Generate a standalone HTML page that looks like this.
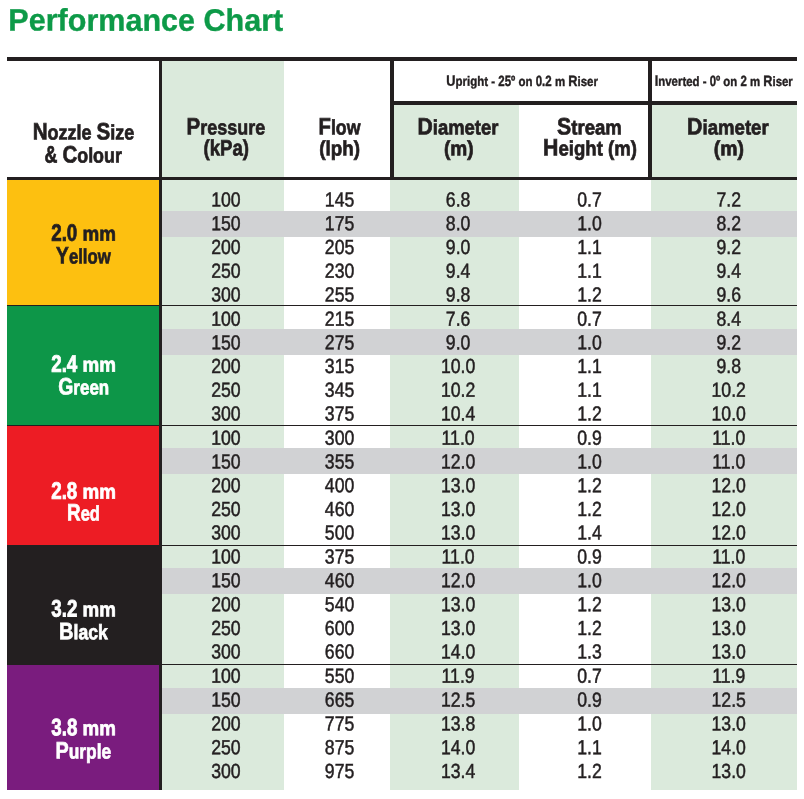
<!DOCTYPE html>
<html lang="en"><head><meta charset="utf-8"><title>Performance Chart</title>
<style>
html,body{margin:0;padding:0;background:#fff;}
body{text-rendering:geometricPrecision;width:804px;height:799px;position:relative;overflow:hidden;font-family:"Liberation Sans",sans-serif;}
.b{position:absolute;}
.t{position:absolute;white-space:nowrap;transform-origin:50% 50%;line-height:30px;}
.cp,.w,.ws{display:inline-block;}
.w::first-letter{font-size:1.145em;line-height:0;}
.ws::first-letter{font-size:1.11em;line-height:0;}
.mx{font-size:1.07em;line-height:0;}
.title{position:absolute;left:8px;top:0px;margin:0;font-size:31px;line-height:40px;font-weight:700;color:#0d9a48;white-space:nowrap;-webkit-text-stroke:0.35px #0d9a48;transform-origin:0 50%;transform:translate(0.35px,0.6px) matrix(0.985,0.0005,0,1,0,0);}
</style></head><body>
<div class="b" style="left:162px;top:61px;width:122px;height:116px;background:#dbeadc"></div>
<div class="b" style="left:394px;top:105px;width:125px;height:72px;background:#dbeadc"></div>
<div class="b" style="left:652px;top:105px;width:145px;height:72px;background:#dbeadc"></div>
<div class="b" style="left:162px;top:180px;width:122px;height:609.8px;background:#dbeadc"></div>
<div class="b" style="left:390px;top:180px;width:129px;height:609.8px;background:#dbeadc"></div>
<div class="b" style="left:651px;top:180px;width:146px;height:609.8px;background:#dbeadc"></div>
<div class="b" style="left:162px;top:211px;width:635px;height:25.6px;background:#d1d2d4"></div>
<div class="b" style="left:162px;top:329px;width:635px;height:25.7px;background:#d1d2d4"></div>
<div class="b" style="left:162px;top:448.1px;width:635px;height:25.7px;background:#d1d2d4"></div>
<div class="b" style="left:162px;top:568.1px;width:635px;height:25.7px;background:#d1d2d4"></div>
<div class="b" style="left:162px;top:688.1px;width:635px;height:25.7px;background:#d1d2d4"></div>
<div class="b" style="left:7px;top:180px;width:152.2px;height:125.2px;background:#fdc010"></div>
<div class="b" style="left:7px;top:305.2px;width:152.2px;height:120.0px;background:#0d9648"></div>
<div class="b" style="left:7px;top:425.2px;width:152.2px;height:120.0px;background:#ed1c24"></div>
<div class="b" style="left:7px;top:545.2px;width:152.2px;height:119.1px;background:#231f20"></div>
<div class="b" style="left:7px;top:664.3px;width:152.2px;height:125.5px;background:#7a1c7e"></div>
<div class="b" style="left:7px;top:57px;width:790px;height:4px;background:#231f20"></div>
<div class="b" style="left:394px;top:101px;width:403px;height:4px;background:#231f20"></div>
<div class="b" style="left:7px;top:177px;width:790px;height:3px;background:#231f20"></div>
<div class="b" style="left:159px;top:57px;width:3px;height:732.8px;background:#231f20"></div>
<div class="b" style="left:390px;top:57px;width:4px;height:123px;background:#231f20"></div>
<div class="b" style="left:648px;top:57px;width:4px;height:123px;background:#231f20"></div>
<div class="b" style="left:7px;top:304.8px;width:790px;height:1.2px;background:#231f20"></div>
<div class="b" style="left:7px;top:424.9px;width:790px;height:1.2px;background:#231f20"></div>
<div class="b" style="left:7px;top:544.9px;width:790px;height:1.2px;background:#231f20"></div>
<div class="b" style="left:7px;top:664.0px;width:790px;height:1.2px;background:#231f20"></div>
<h1 class="title">Performance Chart</h1>
<span class="t" style="left:83px;top:118px;font-size:20.8px;font-weight:700;color:#231f20;transform:translate(calc(-50% + 0.5px),0.6px) matrix(0.8649,0.0005,0,1,0,0);-webkit-text-stroke:0.7px #231f20;"><span class="w">Nozzle</span> <span class="w">Size</span></span>
<span class="t" style="left:83px;top:141px;font-size:20.8px;font-weight:700;color:#231f20;transform:translate(calc(-50% + 0.25px),0.5px) matrix(0.8588,0.0005,0,1,0,0);-webkit-text-stroke:0.7px #231f20;"><span class="cp" style="transform:scaleY(1.145);transform-origin:50% 21.0px">&amp;</span> <span class="w">Colour</span></span>
<span class="t" style="left:225px;top:113px;font-size:20.8px;font-weight:700;color:#231f20;transform:translate(calc(-50% + 0.88px),0.5px) matrix(0.8626,0.0005,0,1,0,0);-webkit-text-stroke:0.7px #231f20;"><span class="w">Pressure</span></span>
<span class="t" style="left:226px;top:134px;font-size:20.8px;font-weight:700;color:#231f20;transform:translate(calc(-50% + 0.21px),0.5px) matrix(0.8375,0.0005,0,1,0,0);-webkit-text-stroke:0.7px #231f20;"><span class="mx">(kPa)</span></span>
<span class="t" style="left:339px;top:113px;font-size:20.8px;font-weight:700;color:#231f20;transform:translate(calc(-50% + 0.49px),0.5px) matrix(0.8508,0.0005,0,1,0,0);-webkit-text-stroke:0.7px #231f20;"><span class="w">Flow</span></span>
<span class="t" style="left:339px;top:134px;font-size:20.8px;font-weight:700;color:#231f20;transform:translate(calc(-50% + 0.66px),0.5px) matrix(0.9056,0.0005,0,1,0,0);-webkit-text-stroke:0.7px #231f20;">(lph)</span>
<span class="t" style="left:457px;top:113px;font-size:20.8px;font-weight:700;color:#231f20;transform:translate(calc(-50% + 0.95px),0.5px) matrix(0.8868,0.0005,0,1,0,0);-webkit-text-stroke:0.7px #231f20;"><span class="w">Diameter</span></span>
<span class="t" style="left:458px;top:134px;font-size:20.8px;font-weight:700;color:#231f20;transform:translate(calc(-50% + 0.85px),0.5px) matrix(0.9181,0.0005,0,1,0,0);-webkit-text-stroke:0.7px #231f20;">(m)</span>
<span class="t" style="left:589px;top:113px;font-size:20.8px;font-weight:700;color:#231f20;transform:translate(calc(-50% + 0.47px),0.5px) matrix(0.8934,0.0005,0,1,0,0);-webkit-text-stroke:0.7px #231f20;"><span class="w">Stream</span></span>
<span class="t" style="left:590px;top:134px;font-size:20.8px;font-weight:700;color:#231f20;transform:translate(calc(-50% + 0.01px),0.5px) matrix(0.8937,0.0005,0,1,0,0);-webkit-text-stroke:0.7px #231f20;"><span class="w">Height</span> (m)</span>
<span class="t" style="left:727px;top:113px;font-size:20.8px;font-weight:700;color:#231f20;transform:translate(calc(-50% + 0.89px),0.5px) matrix(0.8946,0.0005,0,1,0,0);-webkit-text-stroke:0.7px #231f20;"><span class="w">Diameter</span></span>
<span class="t" style="left:728px;top:134px;font-size:20.8px;font-weight:700;color:#231f20;transform:translate(calc(-50% + 0.8px),0.5px) matrix(0.9341,0.0005,0,1,0,0);-webkit-text-stroke:0.7px #231f20;">(m)</span>
<span class="t" style="left:522px;top:66px;font-size:13.4px;font-weight:700;color:#231f20;transform:translate(calc(-50% + 0.15px),0.9px) matrix(0.8578,0.0005,0,1,0,0);-webkit-text-stroke:0.4px #231f20;"><span class="ws">Upright</span> - <span class="cp" style="transform:scaleY(1.11);transform-origin:50% 19.0px">25º</span> on <span class="cp" style="transform:scaleY(1.11);transform-origin:50% 19.0px">0.2</span> m <span class="ws">Riser</span></span>
<span class="t" style="left:723px;top:66px;font-size:13.4px;font-weight:700;color:#231f20;transform:translate(calc(-50% + 0.78px),0.9px) matrix(0.8525,0.0005,0,1,0,0);-webkit-text-stroke:0.4px #231f20;"><span class="ws">Inverted</span> - <span class="cp" style="transform:scaleY(1.11);transform-origin:50% 19.0px">0º</span> on <span class="cp" style="transform:scaleY(1.11);transform-origin:50% 19.0px">2</span> m <span class="ws">Riser</span></span>
<span class="t" style="left:83px;top:219px;font-size:20.8px;font-weight:700;color:#231f20;transform:translate(calc(-50% + 0.6px),0.7px) matrix(0.9042,0.0005,0,1,0,0);-webkit-text-stroke:0.7px #231f20;"><span class="cp" style="transform:scaleY(1.145);transform-origin:50% 21.0px">2.0</span> mm</span>
<span class="t" style="left:83px;top:242px;font-size:20.8px;font-weight:700;color:#231f20;transform:translate(calc(-50% + 0.45px),0.6px) matrix(0.8051,0.0005,0,1,0,0);-webkit-text-stroke:0.7px #231f20;"><span class="w">Yellow</span></span>
<span class="t" style="left:83px;top:350px;font-size:20.8px;font-weight:700;color:#fff;transform:translate(calc(-50% + 0.6px),0.7px) matrix(0.9042,0.0005,0,1,0,0);-webkit-text-stroke:0.7px #fff;"><span class="cp" style="transform:scaleY(1.145);transform-origin:50% 21.0px">2.4</span> mm</span>
<span class="t" style="left:83px;top:373px;font-size:20.8px;font-weight:700;color:#fff;transform:translate(calc(-50% + 0.72px),0.5px) matrix(0.8157,0.0005,0,1,0,0);-webkit-text-stroke:0.7px #fff;"><span class="w">Green</span></span>
<span class="t" style="left:83px;top:477px;font-size:20.8px;font-weight:700;color:#fff;transform:translate(calc(-50% + 0.6px),0.7px) matrix(0.9042,0.0005,0,1,0,0);-webkit-text-stroke:0.7px #fff;"><span class="cp" style="transform:scaleY(1.145);transform-origin:50% 21.0px">2.8</span> mm</span>
<span class="t" style="left:83px;top:499px;font-size:20.8px;font-weight:700;color:#fff;transform:translate(calc(-50% + 0.48px),0.6px) matrix(0.791,0.0005,0,1,0,0);-webkit-text-stroke:0.7px #fff;"><span class="w">Red</span></span>
<span class="t" style="left:83px;top:595px;font-size:20.8px;font-weight:700;color:#fff;transform:translate(calc(-50% + 0.65px),0.4px) matrix(0.9027,0.0005,0,1,0,0);-webkit-text-stroke:0.7px #fff;"><span class="cp" style="transform:scaleY(1.145);transform-origin:50% 21.0px">3.2</span> mm</span>
<span class="t" style="left:83px;top:618px;font-size:20.8px;font-weight:700;color:#fff;transform:translate(calc(-50% + 0.41px),0.2px) matrix(0.8452,0.0005,0,1,0,0);-webkit-text-stroke:0.7px #fff;"><span class="w">Black</span></span>
<span class="t" style="left:83px;top:714px;font-size:20.8px;font-weight:700;color:#fff;transform:translate(calc(-50% + 0.65px),0.3px) matrix(0.9027,0.0005,0,1,0,0);-webkit-text-stroke:0.7px #fff;"><span class="cp" style="transform:scaleY(1.145);transform-origin:50% 21.0px">3.8</span> mm</span>
<span class="t" style="left:83px;top:737px;font-size:20.8px;font-weight:700;color:#fff;transform:translate(calc(-50% + 0.3px),0.5px) matrix(0.8336,0.0005,0,1,0,0);-webkit-text-stroke:0.7px #fff;"><span class="w">Purple</span></span>
<span class="t" style="left:225px;top:185px;font-size:20.4px;font-weight:400;color:#231f20;transform:translate(calc(-50% + 0.95px),0.55px) matrix(0.866,0.0005,0,1,0,0);-webkit-text-stroke:0.5px #231f20;">100</span>
<span class="t" style="left:339px;top:185px;font-size:20.4px;font-weight:400;color:#231f20;transform:translate(calc(-50% + 0.6px),0.55px) matrix(0.866,0.0005,0,1,0,0);-webkit-text-stroke:0.5px #231f20;">145</span>
<span class="t" style="left:458px;top:185px;font-size:20.4px;font-weight:400;color:#231f20;transform:translate(calc(-50% + 0.1px),0.55px) matrix(0.866,0.0005,0,1,0,0);-webkit-text-stroke:0.5px #231f20;">6.8</span>
<span class="t" style="left:589px;top:185px;font-size:20.4px;font-weight:400;color:#231f20;transform:translate(calc(-50% + 0.5px),0.55px) matrix(0.866,0.0005,0,1,0,0);-webkit-text-stroke:0.5px #231f20;">0.7</span>
<span class="t" style="left:728px;top:185px;font-size:20.4px;font-weight:400;color:#231f20;transform:translate(calc(-50% + 0.7px),0.55px) matrix(0.866,0.0005,0,1,0,0);-webkit-text-stroke:0.5px #231f20;">7.2</span>
<span class="t" style="left:225px;top:209px;font-size:20.4px;font-weight:400;color:#231f20;transform:translate(calc(-50% + 0.95px),0.28px) matrix(0.866,0.0005,0,1,0,0);-webkit-text-stroke:0.5px #231f20;">150</span>
<span class="t" style="left:339px;top:209px;font-size:20.4px;font-weight:400;color:#231f20;transform:translate(calc(-50% + 0.6px),0.28px) matrix(0.866,0.0005,0,1,0,0);-webkit-text-stroke:0.5px #231f20;">175</span>
<span class="t" style="left:458px;top:209px;font-size:20.4px;font-weight:400;color:#231f20;transform:translate(calc(-50% + 0.1px),0.28px) matrix(0.866,0.0005,0,1,0,0);-webkit-text-stroke:0.5px #231f20;">8.0</span>
<span class="t" style="left:589px;top:209px;font-size:20.4px;font-weight:400;color:#231f20;transform:translate(calc(-50% + 0.5px),0.28px) matrix(0.866,0.0005,0,1,0,0);-webkit-text-stroke:0.5px #231f20;">1.0</span>
<span class="t" style="left:728px;top:209px;font-size:20.4px;font-weight:400;color:#231f20;transform:translate(calc(-50% + 0.7px),0.28px) matrix(0.866,0.0005,0,1,0,0);-webkit-text-stroke:0.5px #231f20;">8.2</span>
<span class="t" style="left:225px;top:232px;font-size:20.4px;font-weight:400;color:#231f20;transform:translate(calc(-50% + 0.95px),0.96px) matrix(0.866,0.0005,0,1,0,0);-webkit-text-stroke:0.5px #231f20;">200</span>
<span class="t" style="left:339px;top:232px;font-size:20.4px;font-weight:400;color:#231f20;transform:translate(calc(-50% + 0.6px),0.96px) matrix(0.866,0.0005,0,1,0,0);-webkit-text-stroke:0.5px #231f20;">205</span>
<span class="t" style="left:458px;top:232px;font-size:20.4px;font-weight:400;color:#231f20;transform:translate(calc(-50% + 0.1px),0.96px) matrix(0.866,0.0005,0,1,0,0);-webkit-text-stroke:0.5px #231f20;">9.0</span>
<span class="t" style="left:589px;top:232px;font-size:20.4px;font-weight:400;color:#231f20;transform:translate(calc(-50% + 0.5px),0.96px) matrix(0.866,0.0005,0,1,0,0);-webkit-text-stroke:0.5px #231f20;">1.1</span>
<span class="t" style="left:728px;top:232px;font-size:20.4px;font-weight:400;color:#231f20;transform:translate(calc(-50% + 0.7px),0.96px) matrix(0.866,0.0005,0,1,0,0);-webkit-text-stroke:0.5px #231f20;">9.2</span>
<span class="t" style="left:225px;top:256px;font-size:20.4px;font-weight:400;color:#231f20;transform:translate(calc(-50% + 0.95px),0.69px) matrix(0.866,0.0005,0,1,0,0);-webkit-text-stroke:0.5px #231f20;">250</span>
<span class="t" style="left:339px;top:256px;font-size:20.4px;font-weight:400;color:#231f20;transform:translate(calc(-50% + 0.6px),0.69px) matrix(0.866,0.0005,0,1,0,0);-webkit-text-stroke:0.5px #231f20;">230</span>
<span class="t" style="left:458px;top:256px;font-size:20.4px;font-weight:400;color:#231f20;transform:translate(calc(-50% + 0.1px),0.69px) matrix(0.866,0.0005,0,1,0,0);-webkit-text-stroke:0.5px #231f20;">9.4</span>
<span class="t" style="left:589px;top:256px;font-size:20.4px;font-weight:400;color:#231f20;transform:translate(calc(-50% + 0.5px),0.69px) matrix(0.866,0.0005,0,1,0,0);-webkit-text-stroke:0.5px #231f20;">1.1</span>
<span class="t" style="left:728px;top:256px;font-size:20.4px;font-weight:400;color:#231f20;transform:translate(calc(-50% + 0.7px),0.69px) matrix(0.866,0.0005,0,1,0,0);-webkit-text-stroke:0.5px #231f20;">9.4</span>
<span class="t" style="left:225px;top:280px;font-size:20.4px;font-weight:400;color:#231f20;transform:translate(calc(-50% + 0.95px),0.52px) matrix(0.866,0.0005,0,1,0,0);-webkit-text-stroke:0.5px #231f20;">300</span>
<span class="t" style="left:339px;top:280px;font-size:20.4px;font-weight:400;color:#231f20;transform:translate(calc(-50% + 0.6px),0.52px) matrix(0.866,0.0005,0,1,0,0);-webkit-text-stroke:0.5px #231f20;">255</span>
<span class="t" style="left:458px;top:280px;font-size:20.4px;font-weight:400;color:#231f20;transform:translate(calc(-50% + 0.1px),0.52px) matrix(0.866,0.0005,0,1,0,0);-webkit-text-stroke:0.5px #231f20;">9.8</span>
<span class="t" style="left:589px;top:280px;font-size:20.4px;font-weight:400;color:#231f20;transform:translate(calc(-50% + 0.5px),0.52px) matrix(0.866,0.0005,0,1,0,0);-webkit-text-stroke:0.5px #231f20;">1.2</span>
<span class="t" style="left:728px;top:280px;font-size:20.4px;font-weight:400;color:#231f20;transform:translate(calc(-50% + 0.7px),0.52px) matrix(0.866,0.0005,0,1,0,0);-webkit-text-stroke:0.5px #231f20;">9.6</span>
<span class="t" style="left:225px;top:304px;font-size:20.4px;font-weight:400;color:#231f20;transform:translate(calc(-50% + 0.95px),0.7px) matrix(0.866,0.0005,0,1,0,0);-webkit-text-stroke:0.5px #231f20;">100</span>
<span class="t" style="left:339px;top:304px;font-size:20.4px;font-weight:400;color:#231f20;transform:translate(calc(-50% + 0.6px),0.7px) matrix(0.866,0.0005,0,1,0,0);-webkit-text-stroke:0.5px #231f20;">215</span>
<span class="t" style="left:458px;top:304px;font-size:20.4px;font-weight:400;color:#231f20;transform:translate(calc(-50% + 0.1px),0.7px) matrix(0.866,0.0005,0,1,0,0);-webkit-text-stroke:0.5px #231f20;">7.6</span>
<span class="t" style="left:589px;top:304px;font-size:20.4px;font-weight:400;color:#231f20;transform:translate(calc(-50% + 0.5px),0.7px) matrix(0.866,0.0005,0,1,0,0);-webkit-text-stroke:0.5px #231f20;">0.7</span>
<span class="t" style="left:728px;top:304px;font-size:20.4px;font-weight:400;color:#231f20;transform:translate(calc(-50% + 0.7px),0.7px) matrix(0.866,0.0005,0,1,0,0);-webkit-text-stroke:0.5px #231f20;">8.4</span>
<span class="t" style="left:225px;top:328px;font-size:20.4px;font-weight:400;color:#231f20;transform:translate(calc(-50% + 0.95px),0.38px) matrix(0.866,0.0005,0,1,0,0);-webkit-text-stroke:0.5px #231f20;">150</span>
<span class="t" style="left:339px;top:328px;font-size:20.4px;font-weight:400;color:#231f20;transform:translate(calc(-50% + 0.6px),0.38px) matrix(0.866,0.0005,0,1,0,0);-webkit-text-stroke:0.5px #231f20;">275</span>
<span class="t" style="left:458px;top:328px;font-size:20.4px;font-weight:400;color:#231f20;transform:translate(calc(-50% + 0.1px),0.38px) matrix(0.866,0.0005,0,1,0,0);-webkit-text-stroke:0.5px #231f20;">9.0</span>
<span class="t" style="left:589px;top:328px;font-size:20.4px;font-weight:400;color:#231f20;transform:translate(calc(-50% + 0.5px),0.38px) matrix(0.866,0.0005,0,1,0,0);-webkit-text-stroke:0.5px #231f20;">1.0</span>
<span class="t" style="left:728px;top:328px;font-size:20.4px;font-weight:400;color:#231f20;transform:translate(calc(-50% + 0.7px),0.38px) matrix(0.866,0.0005,0,1,0,0);-webkit-text-stroke:0.5px #231f20;">9.2</span>
<span class="t" style="left:225px;top:352px;font-size:20.4px;font-weight:400;color:#231f20;transform:translate(calc(-50% + 0.95px),0.06px) matrix(0.866,0.0005,0,1,0,0);-webkit-text-stroke:0.5px #231f20;">200</span>
<span class="t" style="left:339px;top:352px;font-size:20.4px;font-weight:400;color:#231f20;transform:translate(calc(-50% + 0.6px),0.06px) matrix(0.866,0.0005,0,1,0,0);-webkit-text-stroke:0.5px #231f20;">315</span>
<span class="t" style="left:458px;top:352px;font-size:20.4px;font-weight:400;color:#231f20;transform:translate(calc(-50% + 0.1px),0.06px) matrix(0.866,0.0005,0,1,0,0);-webkit-text-stroke:0.5px #231f20;">10.0</span>
<span class="t" style="left:589px;top:352px;font-size:20.4px;font-weight:400;color:#231f20;transform:translate(calc(-50% + 0.5px),0.06px) matrix(0.866,0.0005,0,1,0,0);-webkit-text-stroke:0.5px #231f20;">1.1</span>
<span class="t" style="left:728px;top:352px;font-size:20.4px;font-weight:400;color:#231f20;transform:translate(calc(-50% + 0.7px),0.06px) matrix(0.866,0.0005,0,1,0,0);-webkit-text-stroke:0.5px #231f20;">9.8</span>
<span class="t" style="left:225px;top:375px;font-size:20.4px;font-weight:400;color:#231f20;transform:translate(calc(-50% + 0.95px),0.79px) matrix(0.866,0.0005,0,1,0,0);-webkit-text-stroke:0.5px #231f20;">250</span>
<span class="t" style="left:339px;top:375px;font-size:20.4px;font-weight:400;color:#231f20;transform:translate(calc(-50% + 0.6px),0.79px) matrix(0.866,0.0005,0,1,0,0);-webkit-text-stroke:0.5px #231f20;">345</span>
<span class="t" style="left:458px;top:375px;font-size:20.4px;font-weight:400;color:#231f20;transform:translate(calc(-50% + 0.1px),0.79px) matrix(0.866,0.0005,0,1,0,0);-webkit-text-stroke:0.5px #231f20;">10.2</span>
<span class="t" style="left:589px;top:375px;font-size:20.4px;font-weight:400;color:#231f20;transform:translate(calc(-50% + 0.5px),0.79px) matrix(0.866,0.0005,0,1,0,0);-webkit-text-stroke:0.5px #231f20;">1.1</span>
<span class="t" style="left:728px;top:375px;font-size:20.4px;font-weight:400;color:#231f20;transform:translate(calc(-50% + 0.7px),0.79px) matrix(0.866,0.0005,0,1,0,0);-webkit-text-stroke:0.5px #231f20;">10.2</span>
<span class="t" style="left:225px;top:399px;font-size:20.4px;font-weight:400;color:#231f20;transform:translate(calc(-50% + 0.95px),0.57px) matrix(0.866,0.0005,0,1,0,0);-webkit-text-stroke:0.5px #231f20;">300</span>
<span class="t" style="left:339px;top:399px;font-size:20.4px;font-weight:400;color:#231f20;transform:translate(calc(-50% + 0.6px),0.57px) matrix(0.866,0.0005,0,1,0,0);-webkit-text-stroke:0.5px #231f20;">375</span>
<span class="t" style="left:458px;top:399px;font-size:20.4px;font-weight:400;color:#231f20;transform:translate(calc(-50% + 0.1px),0.57px) matrix(0.866,0.0005,0,1,0,0);-webkit-text-stroke:0.5px #231f20;">10.4</span>
<span class="t" style="left:589px;top:399px;font-size:20.4px;font-weight:400;color:#231f20;transform:translate(calc(-50% + 0.5px),0.57px) matrix(0.866,0.0005,0,1,0,0);-webkit-text-stroke:0.5px #231f20;">1.2</span>
<span class="t" style="left:728px;top:399px;font-size:20.4px;font-weight:400;color:#231f20;transform:translate(calc(-50% + 0.7px),0.57px) matrix(0.866,0.0005,0,1,0,0);-webkit-text-stroke:0.5px #231f20;">10.0</span>
<span class="t" style="left:225px;top:423px;font-size:20.4px;font-weight:400;color:#231f20;transform:translate(calc(-50% + 0.95px),0.85px) matrix(0.866,0.0005,0,1,0,0);-webkit-text-stroke:0.5px #231f20;">100</span>
<span class="t" style="left:339px;top:423px;font-size:20.4px;font-weight:400;color:#231f20;transform:translate(calc(-50% + 0.6px),0.85px) matrix(0.866,0.0005,0,1,0,0);-webkit-text-stroke:0.5px #231f20;">300</span>
<span class="t" style="left:458px;top:423px;font-size:20.4px;font-weight:400;color:#231f20;transform:translate(calc(-50% + 0.1px),0.85px) matrix(0.866,0.0005,0,1,0,0);-webkit-text-stroke:0.5px #231f20;">11.0</span>
<span class="t" style="left:589px;top:423px;font-size:20.4px;font-weight:400;color:#231f20;transform:translate(calc(-50% + 0.5px),0.85px) matrix(0.866,0.0005,0,1,0,0);-webkit-text-stroke:0.5px #231f20;">0.9</span>
<span class="t" style="left:728px;top:423px;font-size:20.4px;font-weight:400;color:#231f20;transform:translate(calc(-50% + 0.7px),0.85px) matrix(0.866,0.0005,0,1,0,0);-webkit-text-stroke:0.5px #231f20;">11.0</span>
<span class="t" style="left:225px;top:447px;font-size:20.4px;font-weight:400;color:#231f20;transform:translate(calc(-50% + 0.95px),0.53px) matrix(0.866,0.0005,0,1,0,0);-webkit-text-stroke:0.5px #231f20;">150</span>
<span class="t" style="left:339px;top:447px;font-size:20.4px;font-weight:400;color:#231f20;transform:translate(calc(-50% + 0.6px),0.53px) matrix(0.866,0.0005,0,1,0,0);-webkit-text-stroke:0.5px #231f20;">355</span>
<span class="t" style="left:458px;top:447px;font-size:20.4px;font-weight:400;color:#231f20;transform:translate(calc(-50% + 0.1px),0.53px) matrix(0.866,0.0005,0,1,0,0);-webkit-text-stroke:0.5px #231f20;">12.0</span>
<span class="t" style="left:589px;top:447px;font-size:20.4px;font-weight:400;color:#231f20;transform:translate(calc(-50% + 0.5px),0.53px) matrix(0.866,0.0005,0,1,0,0);-webkit-text-stroke:0.5px #231f20;">1.0</span>
<span class="t" style="left:728px;top:447px;font-size:20.4px;font-weight:400;color:#231f20;transform:translate(calc(-50% + 0.7px),0.53px) matrix(0.866,0.0005,0,1,0,0);-webkit-text-stroke:0.5px #231f20;">11.0</span>
<span class="t" style="left:225px;top:471px;font-size:20.4px;font-weight:400;color:#231f20;transform:translate(calc(-50% + 0.95px),0.21px) matrix(0.866,0.0005,0,1,0,0);-webkit-text-stroke:0.5px #231f20;">200</span>
<span class="t" style="left:339px;top:471px;font-size:20.4px;font-weight:400;color:#231f20;transform:translate(calc(-50% + 0.6px),0.21px) matrix(0.866,0.0005,0,1,0,0);-webkit-text-stroke:0.5px #231f20;">400</span>
<span class="t" style="left:458px;top:471px;font-size:20.4px;font-weight:400;color:#231f20;transform:translate(calc(-50% + 0.1px),0.21px) matrix(0.866,0.0005,0,1,0,0);-webkit-text-stroke:0.5px #231f20;">13.0</span>
<span class="t" style="left:589px;top:471px;font-size:20.4px;font-weight:400;color:#231f20;transform:translate(calc(-50% + 0.5px),0.21px) matrix(0.866,0.0005,0,1,0,0);-webkit-text-stroke:0.5px #231f20;">1.2</span>
<span class="t" style="left:728px;top:471px;font-size:20.4px;font-weight:400;color:#231f20;transform:translate(calc(-50% + 0.7px),0.21px) matrix(0.866,0.0005,0,1,0,0);-webkit-text-stroke:0.5px #231f20;">12.0</span>
<span class="t" style="left:225px;top:494px;font-size:20.4px;font-weight:400;color:#231f20;transform:translate(calc(-50% + 0.95px),0.89px) matrix(0.866,0.0005,0,1,0,0);-webkit-text-stroke:0.5px #231f20;">250</span>
<span class="t" style="left:339px;top:494px;font-size:20.4px;font-weight:400;color:#231f20;transform:translate(calc(-50% + 0.6px),0.89px) matrix(0.866,0.0005,0,1,0,0);-webkit-text-stroke:0.5px #231f20;">460</span>
<span class="t" style="left:458px;top:494px;font-size:20.4px;font-weight:400;color:#231f20;transform:translate(calc(-50% + 0.1px),0.89px) matrix(0.866,0.0005,0,1,0,0);-webkit-text-stroke:0.5px #231f20;">13.0</span>
<span class="t" style="left:589px;top:494px;font-size:20.4px;font-weight:400;color:#231f20;transform:translate(calc(-50% + 0.5px),0.89px) matrix(0.866,0.0005,0,1,0,0);-webkit-text-stroke:0.5px #231f20;">1.2</span>
<span class="t" style="left:728px;top:494px;font-size:20.4px;font-weight:400;color:#231f20;transform:translate(calc(-50% + 0.7px),0.89px) matrix(0.866,0.0005,0,1,0,0);-webkit-text-stroke:0.5px #231f20;">12.0</span>
<span class="t" style="left:225px;top:518px;font-size:20.4px;font-weight:400;color:#231f20;transform:translate(calc(-50% + 0.95px),0.47px) matrix(0.866,0.0005,0,1,0,0);-webkit-text-stroke:0.5px #231f20;">300</span>
<span class="t" style="left:339px;top:518px;font-size:20.4px;font-weight:400;color:#231f20;transform:translate(calc(-50% + 0.6px),0.47px) matrix(0.866,0.0005,0,1,0,0);-webkit-text-stroke:0.5px #231f20;">500</span>
<span class="t" style="left:458px;top:518px;font-size:20.4px;font-weight:400;color:#231f20;transform:translate(calc(-50% + 0.1px),0.47px) matrix(0.866,0.0005,0,1,0,0);-webkit-text-stroke:0.5px #231f20;">13.0</span>
<span class="t" style="left:589px;top:518px;font-size:20.4px;font-weight:400;color:#231f20;transform:translate(calc(-50% + 0.5px),0.47px) matrix(0.866,0.0005,0,1,0,0);-webkit-text-stroke:0.5px #231f20;">1.4</span>
<span class="t" style="left:728px;top:518px;font-size:20.4px;font-weight:400;color:#231f20;transform:translate(calc(-50% + 0.7px),0.47px) matrix(0.866,0.0005,0,1,0,0);-webkit-text-stroke:0.5px #231f20;">12.0</span>
<span class="t" style="left:225px;top:542px;font-size:20.4px;font-weight:400;color:#231f20;transform:translate(calc(-50% + 0.95px),0.55px) matrix(0.866,0.0005,0,1,0,0);-webkit-text-stroke:0.5px #231f20;">100</span>
<span class="t" style="left:339px;top:542px;font-size:20.4px;font-weight:400;color:#231f20;transform:translate(calc(-50% + 0.6px),0.55px) matrix(0.866,0.0005,0,1,0,0);-webkit-text-stroke:0.5px #231f20;">375</span>
<span class="t" style="left:458px;top:542px;font-size:20.4px;font-weight:400;color:#231f20;transform:translate(calc(-50% + 0.1px),0.55px) matrix(0.866,0.0005,0,1,0,0);-webkit-text-stroke:0.5px #231f20;">11.0</span>
<span class="t" style="left:589px;top:542px;font-size:20.4px;font-weight:400;color:#231f20;transform:translate(calc(-50% + 0.5px),0.55px) matrix(0.866,0.0005,0,1,0,0);-webkit-text-stroke:0.5px #231f20;">0.9</span>
<span class="t" style="left:728px;top:542px;font-size:20.4px;font-weight:400;color:#231f20;transform:translate(calc(-50% + 0.7px),0.55px) matrix(0.866,0.0005,0,1,0,0);-webkit-text-stroke:0.5px #231f20;">11.0</span>
<span class="t" style="left:225px;top:566px;font-size:20.4px;font-weight:400;color:#231f20;transform:translate(calc(-50% + 0.95px),0.28px) matrix(0.866,0.0005,0,1,0,0);-webkit-text-stroke:0.5px #231f20;">150</span>
<span class="t" style="left:339px;top:566px;font-size:20.4px;font-weight:400;color:#231f20;transform:translate(calc(-50% + 0.6px),0.28px) matrix(0.866,0.0005,0,1,0,0);-webkit-text-stroke:0.5px #231f20;">460</span>
<span class="t" style="left:458px;top:566px;font-size:20.4px;font-weight:400;color:#231f20;transform:translate(calc(-50% + 0.1px),0.28px) matrix(0.866,0.0005,0,1,0,0);-webkit-text-stroke:0.5px #231f20;">12.0</span>
<span class="t" style="left:589px;top:566px;font-size:20.4px;font-weight:400;color:#231f20;transform:translate(calc(-50% + 0.5px),0.28px) matrix(0.866,0.0005,0,1,0,0);-webkit-text-stroke:0.5px #231f20;">1.0</span>
<span class="t" style="left:728px;top:566px;font-size:20.4px;font-weight:400;color:#231f20;transform:translate(calc(-50% + 0.7px),0.28px) matrix(0.866,0.0005,0,1,0,0);-webkit-text-stroke:0.5px #231f20;">12.0</span>
<span class="t" style="left:225px;top:590px;font-size:20.4px;font-weight:400;color:#231f20;transform:translate(calc(-50% + 0.95px),0.16px) matrix(0.866,0.0005,0,1,0,0);-webkit-text-stroke:0.5px #231f20;">200</span>
<span class="t" style="left:339px;top:590px;font-size:20.4px;font-weight:400;color:#231f20;transform:translate(calc(-50% + 0.6px),0.16px) matrix(0.866,0.0005,0,1,0,0);-webkit-text-stroke:0.5px #231f20;">540</span>
<span class="t" style="left:458px;top:590px;font-size:20.4px;font-weight:400;color:#231f20;transform:translate(calc(-50% + 0.1px),0.16px) matrix(0.866,0.0005,0,1,0,0);-webkit-text-stroke:0.5px #231f20;">13.0</span>
<span class="t" style="left:589px;top:590px;font-size:20.4px;font-weight:400;color:#231f20;transform:translate(calc(-50% + 0.5px),0.16px) matrix(0.866,0.0005,0,1,0,0);-webkit-text-stroke:0.5px #231f20;">1.2</span>
<span class="t" style="left:728px;top:590px;font-size:20.4px;font-weight:400;color:#231f20;transform:translate(calc(-50% + 0.7px),0.16px) matrix(0.866,0.0005,0,1,0,0);-webkit-text-stroke:0.5px #231f20;">13.0</span>
<span class="t" style="left:225px;top:613px;font-size:20.4px;font-weight:400;color:#231f20;transform:translate(calc(-50% + 0.95px),0.89px) matrix(0.866,0.0005,0,1,0,0);-webkit-text-stroke:0.5px #231f20;">250</span>
<span class="t" style="left:339px;top:613px;font-size:20.4px;font-weight:400;color:#231f20;transform:translate(calc(-50% + 0.6px),0.89px) matrix(0.866,0.0005,0,1,0,0);-webkit-text-stroke:0.5px #231f20;">600</span>
<span class="t" style="left:458px;top:613px;font-size:20.4px;font-weight:400;color:#231f20;transform:translate(calc(-50% + 0.1px),0.89px) matrix(0.866,0.0005,0,1,0,0);-webkit-text-stroke:0.5px #231f20;">13.0</span>
<span class="t" style="left:589px;top:613px;font-size:20.4px;font-weight:400;color:#231f20;transform:translate(calc(-50% + 0.5px),0.89px) matrix(0.866,0.0005,0,1,0,0);-webkit-text-stroke:0.5px #231f20;">1.2</span>
<span class="t" style="left:728px;top:613px;font-size:20.4px;font-weight:400;color:#231f20;transform:translate(calc(-50% + 0.7px),0.89px) matrix(0.866,0.0005,0,1,0,0);-webkit-text-stroke:0.5px #231f20;">13.0</span>
<span class="t" style="left:225px;top:637px;font-size:20.4px;font-weight:400;color:#231f20;transform:translate(calc(-50% + 0.95px),0.62px) matrix(0.866,0.0005,0,1,0,0);-webkit-text-stroke:0.5px #231f20;">300</span>
<span class="t" style="left:339px;top:637px;font-size:20.4px;font-weight:400;color:#231f20;transform:translate(calc(-50% + 0.6px),0.62px) matrix(0.866,0.0005,0,1,0,0);-webkit-text-stroke:0.5px #231f20;">660</span>
<span class="t" style="left:458px;top:637px;font-size:20.4px;font-weight:400;color:#231f20;transform:translate(calc(-50% + 0.1px),0.62px) matrix(0.866,0.0005,0,1,0,0);-webkit-text-stroke:0.5px #231f20;">14.0</span>
<span class="t" style="left:589px;top:637px;font-size:20.4px;font-weight:400;color:#231f20;transform:translate(calc(-50% + 0.5px),0.62px) matrix(0.866,0.0005,0,1,0,0);-webkit-text-stroke:0.5px #231f20;">1.3</span>
<span class="t" style="left:728px;top:637px;font-size:20.4px;font-weight:400;color:#231f20;transform:translate(calc(-50% + 0.7px),0.62px) matrix(0.866,0.0005,0,1,0,0);-webkit-text-stroke:0.5px #231f20;">13.0</span>
<span class="t" style="left:225px;top:661px;font-size:20.4px;font-weight:400;color:#231f20;transform:translate(calc(-50% + 0.95px),0.8px) matrix(0.866,0.0005,0,1,0,0);-webkit-text-stroke:0.5px #231f20;">100</span>
<span class="t" style="left:339px;top:661px;font-size:20.4px;font-weight:400;color:#231f20;transform:translate(calc(-50% + 0.6px),0.8px) matrix(0.866,0.0005,0,1,0,0);-webkit-text-stroke:0.5px #231f20;">550</span>
<span class="t" style="left:458px;top:661px;font-size:20.4px;font-weight:400;color:#231f20;transform:translate(calc(-50% + 0.1px),0.8px) matrix(0.866,0.0005,0,1,0,0);-webkit-text-stroke:0.5px #231f20;">11.9</span>
<span class="t" style="left:589px;top:661px;font-size:20.4px;font-weight:400;color:#231f20;transform:translate(calc(-50% + 0.5px),0.8px) matrix(0.866,0.0005,0,1,0,0);-webkit-text-stroke:0.5px #231f20;">0.7</span>
<span class="t" style="left:728px;top:661px;font-size:20.4px;font-weight:400;color:#231f20;transform:translate(calc(-50% + 0.7px),0.8px) matrix(0.866,0.0005,0,1,0,0);-webkit-text-stroke:0.5px #231f20;">11.9</span>
<span class="t" style="left:225px;top:685px;font-size:20.4px;font-weight:400;color:#231f20;transform:translate(calc(-50% + 0.95px),0.63px) matrix(0.866,0.0005,0,1,0,0);-webkit-text-stroke:0.5px #231f20;">150</span>
<span class="t" style="left:339px;top:685px;font-size:20.4px;font-weight:400;color:#231f20;transform:translate(calc(-50% + 0.6px),0.63px) matrix(0.866,0.0005,0,1,0,0);-webkit-text-stroke:0.5px #231f20;">665</span>
<span class="t" style="left:458px;top:685px;font-size:20.4px;font-weight:400;color:#231f20;transform:translate(calc(-50% + 0.1px),0.63px) matrix(0.866,0.0005,0,1,0,0);-webkit-text-stroke:0.5px #231f20;">12.5</span>
<span class="t" style="left:589px;top:685px;font-size:20.4px;font-weight:400;color:#231f20;transform:translate(calc(-50% + 0.5px),0.63px) matrix(0.866,0.0005,0,1,0,0);-webkit-text-stroke:0.5px #231f20;">0.9</span>
<span class="t" style="left:728px;top:685px;font-size:20.4px;font-weight:400;color:#231f20;transform:translate(calc(-50% + 0.7px),0.63px) matrix(0.866,0.0005,0,1,0,0);-webkit-text-stroke:0.5px #231f20;">12.5</span>
<span class="t" style="left:225px;top:709px;font-size:20.4px;font-weight:400;color:#231f20;transform:translate(calc(-50% + 0.95px),0.46px) matrix(0.866,0.0005,0,1,0,0);-webkit-text-stroke:0.5px #231f20;">200</span>
<span class="t" style="left:339px;top:709px;font-size:20.4px;font-weight:400;color:#231f20;transform:translate(calc(-50% + 0.6px),0.46px) matrix(0.866,0.0005,0,1,0,0);-webkit-text-stroke:0.5px #231f20;">775</span>
<span class="t" style="left:458px;top:709px;font-size:20.4px;font-weight:400;color:#231f20;transform:translate(calc(-50% + 0.1px),0.46px) matrix(0.866,0.0005,0,1,0,0);-webkit-text-stroke:0.5px #231f20;">13.8</span>
<span class="t" style="left:589px;top:709px;font-size:20.4px;font-weight:400;color:#231f20;transform:translate(calc(-50% + 0.5px),0.46px) matrix(0.866,0.0005,0,1,0,0);-webkit-text-stroke:0.5px #231f20;">1.0</span>
<span class="t" style="left:728px;top:709px;font-size:20.4px;font-weight:400;color:#231f20;transform:translate(calc(-50% + 0.7px),0.46px) matrix(0.866,0.0005,0,1,0,0);-webkit-text-stroke:0.5px #231f20;">13.0</span>
<span class="t" style="left:225px;top:733px;font-size:20.4px;font-weight:400;color:#231f20;transform:translate(calc(-50% + 0.95px),0.24px) matrix(0.866,0.0005,0,1,0,0);-webkit-text-stroke:0.5px #231f20;">250</span>
<span class="t" style="left:339px;top:733px;font-size:20.4px;font-weight:400;color:#231f20;transform:translate(calc(-50% + 0.6px),0.24px) matrix(0.866,0.0005,0,1,0,0);-webkit-text-stroke:0.5px #231f20;">875</span>
<span class="t" style="left:458px;top:733px;font-size:20.4px;font-weight:400;color:#231f20;transform:translate(calc(-50% + 0.1px),0.24px) matrix(0.866,0.0005,0,1,0,0);-webkit-text-stroke:0.5px #231f20;">14.0</span>
<span class="t" style="left:589px;top:733px;font-size:20.4px;font-weight:400;color:#231f20;transform:translate(calc(-50% + 0.5px),0.24px) matrix(0.866,0.0005,0,1,0,0);-webkit-text-stroke:0.5px #231f20;">1.1</span>
<span class="t" style="left:728px;top:733px;font-size:20.4px;font-weight:400;color:#231f20;transform:translate(calc(-50% + 0.7px),0.24px) matrix(0.866,0.0005,0,1,0,0);-webkit-text-stroke:0.5px #231f20;">14.0</span>
<span class="t" style="left:225px;top:757px;font-size:20.4px;font-weight:400;color:#231f20;transform:translate(calc(-50% + 0.95px),0.12px) matrix(0.866,0.0005,0,1,0,0);-webkit-text-stroke:0.5px #231f20;">300</span>
<span class="t" style="left:339px;top:757px;font-size:20.4px;font-weight:400;color:#231f20;transform:translate(calc(-50% + 0.6px),0.12px) matrix(0.866,0.0005,0,1,0,0);-webkit-text-stroke:0.5px #231f20;">975</span>
<span class="t" style="left:458px;top:757px;font-size:20.4px;font-weight:400;color:#231f20;transform:translate(calc(-50% + 0.1px),0.12px) matrix(0.866,0.0005,0,1,0,0);-webkit-text-stroke:0.5px #231f20;">13.4</span>
<span class="t" style="left:589px;top:757px;font-size:20.4px;font-weight:400;color:#231f20;transform:translate(calc(-50% + 0.5px),0.12px) matrix(0.866,0.0005,0,1,0,0);-webkit-text-stroke:0.5px #231f20;">1.2</span>
<span class="t" style="left:728px;top:757px;font-size:20.4px;font-weight:400;color:#231f20;transform:translate(calc(-50% + 0.7px),0.12px) matrix(0.866,0.0005,0,1,0,0);-webkit-text-stroke:0.5px #231f20;">13.0</span>
</body></html>
